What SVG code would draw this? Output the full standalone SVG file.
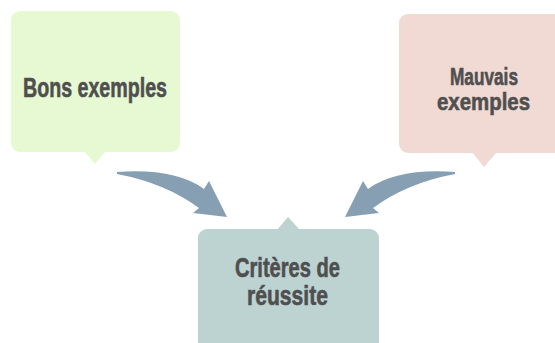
<svg xmlns="http://www.w3.org/2000/svg" width="555" height="343" viewBox="0 0 555 343">
<style>
.lbl{font-family:"Liberation Sans","DejaVu Sans",sans-serif;font-weight:bold;fill:#4f4f4f;stroke:#4f4f4f;stroke-width:0.6;}
.arrow{fill:#879fb3;}
</style>
<defs>
<path id="arr" d="M117,172 Q175,168 204,189 L209,181 L227,217 L193,213 L199,208 Q165,183 117,174 Z"/>
</defs>
<rect width="555" height="343" fill="#ffffff"/>
<g id="connectors">
<use href="#arr" class="arrow"/>
<use href="#arr" class="arrow" transform="translate(572,0) scale(-1,1)"/>
</g>
<g id="node-bons">
<rect x="11" y="11" width="169" height="141" rx="9" fill="#e6f9d2"/>
<polygon points="84,151 95,164 106,151" fill="#e6f9d2"/>
<text class="lbl" x="23" y="97" font-size="28" textLength="144" lengthAdjust="spacingAndGlyphs">Bons exemples</text>
</g>
<g id="node-mauvais">
<rect x="399" y="14" width="170" height="139" rx="9" fill="#f0dad3"/>
<polygon points="472,152 484,167 497,152" fill="#f0dad3"/>
<text class="lbl" x="450" y="85" font-size="24" textLength="68" lengthAdjust="spacingAndGlyphs">Mauvais</text>
<text class="lbl" x="437" y="110" font-size="24" textLength="93" lengthAdjust="spacingAndGlyphs">exemples</text>
</g>
<g id="node-criteres">
<rect x="198" y="229" width="181" height="130" rx="9" fill="#bcd3d1"/>
<polygon points="277,230 288,217 300,230" fill="#bcd3d1"/>
<text class="lbl" x="235" y="277" font-size="27" textLength="105" lengthAdjust="spacingAndGlyphs">Critères de</text>
<text class="lbl" x="247" y="305" font-size="27" textLength="81" lengthAdjust="spacingAndGlyphs">réussite</text>
</g>
</svg>
